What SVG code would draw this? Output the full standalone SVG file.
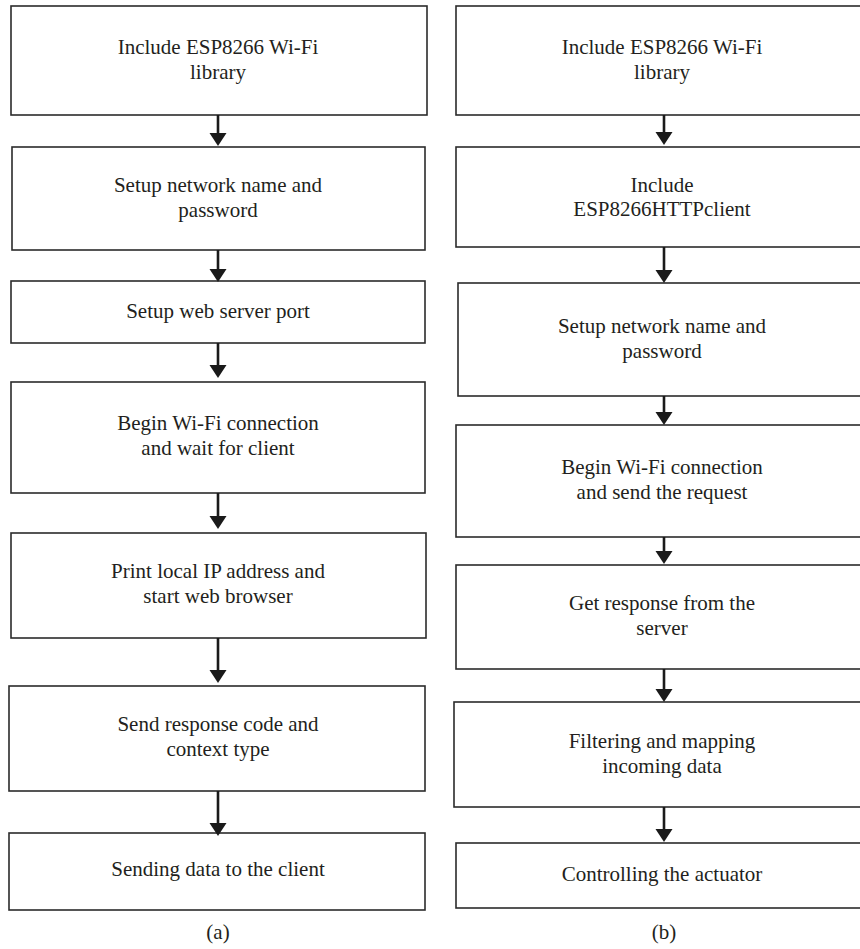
<svg xmlns="http://www.w3.org/2000/svg" width="860" height="949" viewBox="0 0 860 949">
<style>
.box{fill:#fff;stroke:#2b2b2b;stroke-width:1.6}
.t{font-family:"Liberation Serif","Times New Roman",serif;font-size:21px;fill:#231f20;text-anchor:middle}
.c{stroke:#1a1a1a;stroke-width:2.6;fill:none}
</style>
<defs>
<marker id="ah" markerUnits="userSpaceOnUse" markerWidth="14" markerHeight="18" refX="1" refY="8.5" orient="auto">
<path d="M0,0 L13,8.5 L0,17 Z" fill="#1a1a1a"/>
</marker>
</defs>
<rect width="860" height="949" fill="#fff"/>
<g id="a1"><rect class="box" x="11" y="6" width="416" height="109"/><text class="t" x="218" y="53.5">Include ESP8266 Wi-Fi</text><text class="t" x="218" y="78.5">library</text></g>
<g id="a2"><rect class="box" x="12" y="147" width="413" height="103"/><text class="t" x="218" y="192">Setup network name and</text><text class="t" x="218" y="217">password</text></g>
<g id="a3"><rect class="box" x="11" y="281" width="414" height="62"/><text class="t" x="218" y="318">Setup web server port</text></g>
<g id="a4"><rect class="box" x="11" y="382" width="414" height="111"/><text class="t" x="218" y="430">Begin Wi-Fi connection</text><text class="t" x="218" y="455">and wait for client</text></g>
<g id="a5"><rect class="box" x="11" y="533" width="415" height="105"/><text class="t" x="218" y="578">Print local IP address and</text><text class="t" x="218" y="603">start web browser</text></g>
<g id="a6"><rect class="box" x="9" y="686" width="416" height="105"/><text class="t" x="218" y="731">Send response code and</text><text class="t" x="218" y="756">context type</text></g>
<g id="a7"><rect class="box" x="9" y="833" width="416" height="77"/><text class="t" x="218" y="876">Sending data to the client</text></g>
<text class="t" x="218" y="939">(a)</text>

<g id="b1"><rect class="box" x="456" y="6" width="414" height="109"/><text class="t" x="662" y="53.5">Include ESP8266 Wi-Fi</text><text class="t" x="662" y="78.5">library</text></g>
<g id="b2"><rect class="box" x="456" y="147" width="414" height="100"/><text class="t" x="662" y="192">Include</text><text class="t" x="662" y="216">ESP8266HTTPclient</text></g>
<g id="b3"><rect class="box" x="458" y="283" width="412" height="113"/><text class="t" x="662" y="332.5">Setup network name and</text><text class="t" x="662" y="357.5">password</text></g>
<g id="b4"><rect class="box" x="456" y="425" width="414" height="112"/><text class="t" x="662" y="474">Begin Wi-Fi connection</text><text class="t" x="662" y="499">and send the request</text></g>
<g id="b5"><rect class="box" x="456" y="565" width="414" height="104"/><text class="t" x="662" y="610">Get response from the</text><text class="t" x="662" y="635">server</text></g>
<g id="b6"><rect class="box" x="454" y="702" width="416" height="105"/><text class="t" x="662" y="747.5">Filtering and mapping</text><text class="t" x="662" y="772.5">incoming data</text></g>
<g id="b7"><rect class="box" x="456" y="843" width="414" height="65"/><text class="t" x="662" y="881">Controlling the actuator</text></g>
<text class="t" x="664" y="939">(b)</text>

<g id="connectors">
<line class="c" x1="218" y1="115" x2="218" y2="134" marker-end="url(#ah)"/>
<line class="c" x1="218" y1="250" x2="218" y2="270" marker-end="url(#ah)"/>
<line class="c" x1="218" y1="343" x2="218" y2="366" marker-end="url(#ah)"/>
<line class="c" x1="218" y1="493" x2="218" y2="517" marker-end="url(#ah)"/>
<line class="c" x1="218" y1="638" x2="218" y2="671" marker-end="url(#ah)"/>
<line class="c" x1="218" y1="791" x2="218" y2="824" marker-end="url(#ah)"/>
<line class="c" x1="664" y1="115" x2="664" y2="133" marker-end="url(#ah)"/>
<line class="c" x1="664" y1="247" x2="664" y2="271" marker-end="url(#ah)"/>
<line class="c" x1="664" y1="396" x2="664" y2="413" marker-end="url(#ah)"/>
<line class="c" x1="664" y1="537" x2="664" y2="552" marker-end="url(#ah)"/>
<line class="c" x1="664" y1="669" x2="664" y2="690" marker-end="url(#ah)"/>
<line class="c" x1="664" y1="807" x2="664" y2="830" marker-end="url(#ah)"/>
</g>
</svg>
